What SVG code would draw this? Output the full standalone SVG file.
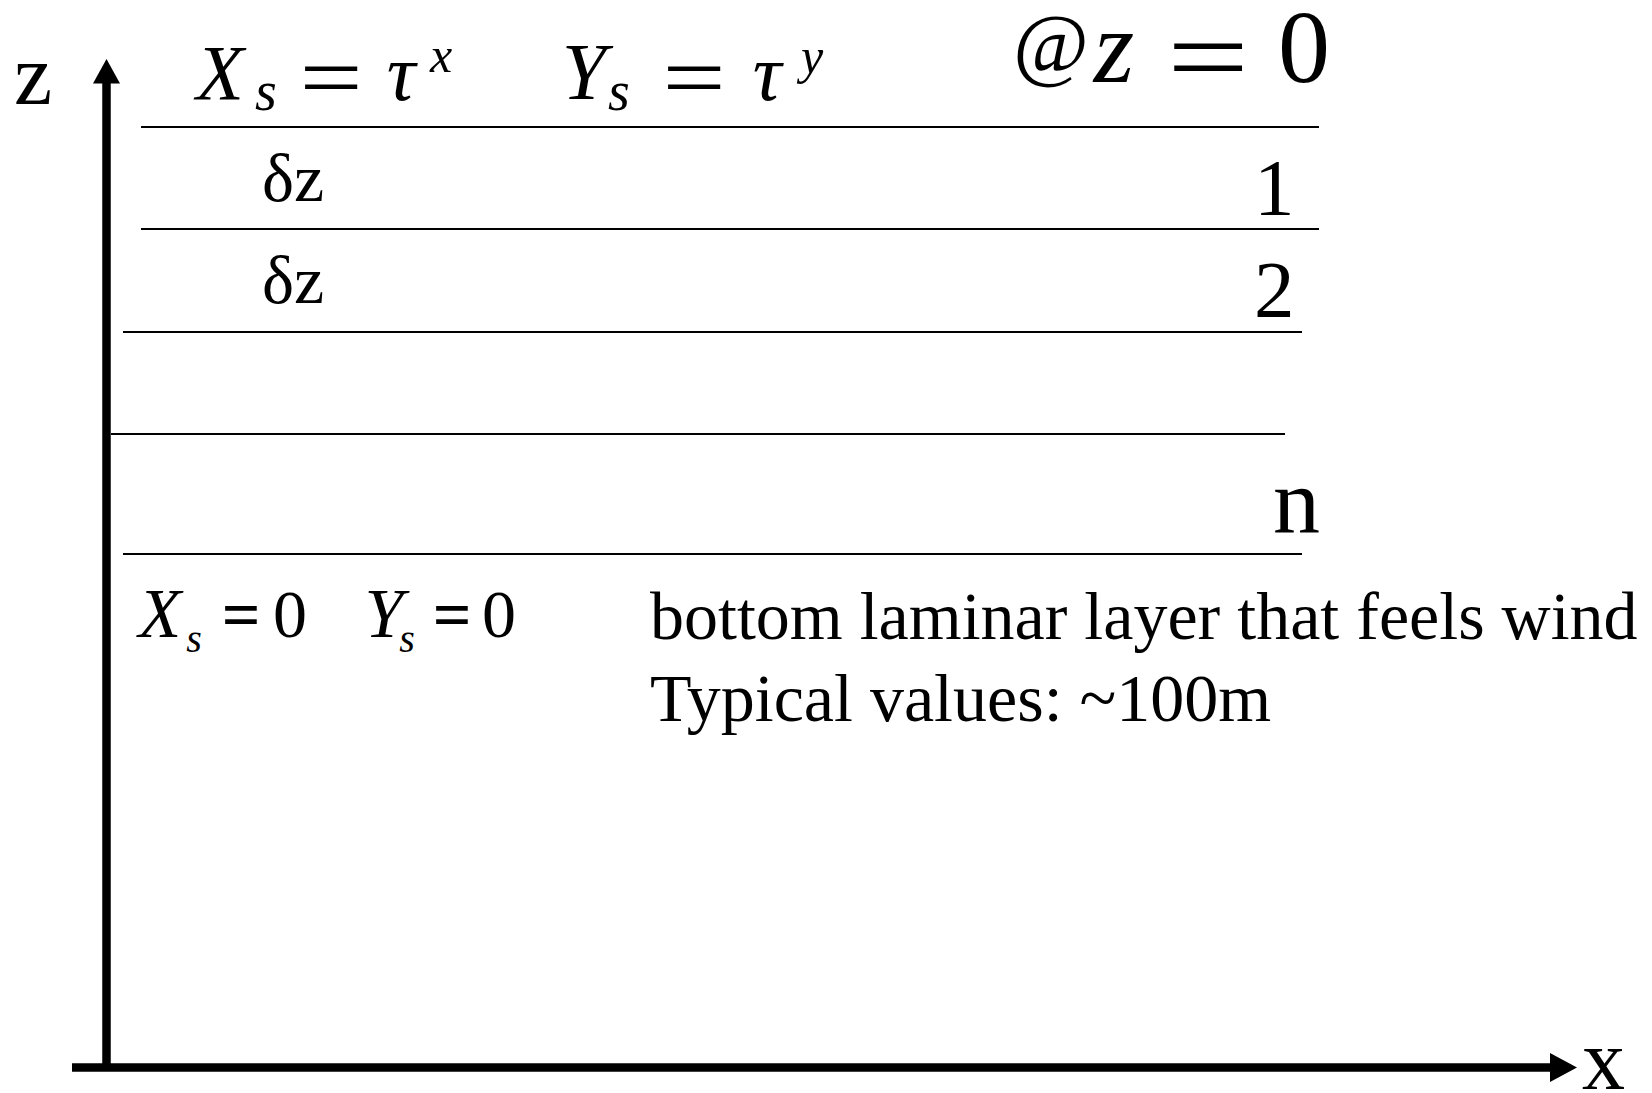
<svg xmlns="http://www.w3.org/2000/svg" width="1652" height="1093" viewBox="0 0 1652 1093">
<style>
text{font-family:"Liberation Serif","Times New Roman",serif;fill:#000}
.it{font-style:italic}
.c{text-anchor:middle}
.layer{stroke:#000;stroke-width:2.2;fill:none}
.axis{stroke:#000;stroke-width:8.5;fill:none}
</style>
<rect width="1652" height="1093" fill="#fff"/>
<g id="axes">
  <line class="axis" x1="106.5" y1="80" x2="106.5" y2="1071"/>
  <polygon points="106.5,59 93,83.5 120,83.5" fill="#000"/>
  <line class="axis" x1="72" y1="1067.5" x2="1553" y2="1067.5"/>
  <polygon points="1577,1067.5 1550,1053 1550,1082" fill="#000"/>
  <text x="14" y="104" font-size="86">z</text>
  <text x="1582" y="1089" font-size="86">x</text>
</g>
<g id="layers">
  <line class="layer" x1="141" y1="127" x2="1319" y2="127"/>
  <line class="layer" x1="141" y1="229" x2="1319" y2="229"/>
  <line class="layer" x1="123" y1="332" x2="1302" y2="332"/>
  <line class="layer" x1="111" y1="434" x2="1285" y2="434"/>
  <line class="layer" x1="123" y1="554" x2="1302" y2="554"/>
</g>
<g id="top-formula">
  <text class="it c" x="220" y="99" font-size="78">X</text>
  <text class="it c" x="266" y="110" font-size="56">s</text>
  <text class="c" transform="translate(331,107) scale(1.4,1.1)" font-size="80">=</text>
  <text class="it c" x="401" y="100" font-size="80">τ</text>
  <text class="it c" x="441" y="72" font-size="50">x</text>
  <text class="it c" x="584" y="99" font-size="80">Y</text>
  <text class="it c" x="619" y="110" font-size="56">s</text>
  <text class="c" transform="translate(694,107) scale(1.4,1.1)" font-size="80">=</text>
  <text class="it c" x="767" y="100" font-size="80">τ</text>
  <text class="it c" x="812" y="73" font-size="50">y</text>
  <text class="c" x="1051" y="71" font-size="82">@</text>
  <text class="it c" x="1114" y="82" font-size="104">z</text>
  <text class="c" transform="translate(1208,94) scale(1.4,1.05)" font-size="104">=</text>
  <text class="c" x="1304" y="82" font-size="104">0</text>
</g>
<g id="layer-labels">
  <text x="262" y="201" font-size="68">δz</text>
  <text x="262" y="303" font-size="68">δz</text>
  <text x="1254" y="215" font-size="81">1</text>
  <text x="1254" y="317" font-size="81">2</text>
  <text x="1273" y="533" font-size="94">n</text>
</g>
<g id="bottom-formula">
  <text class="it c" x="160" y="637" font-size="70">X</text>
  <text class="it c" x="194" y="652" font-size="40">s</text>
  <text class="c" x="241" y="637" font-size="68" font-weight="bold">=</text>
  <text class="c" x="290" y="637" font-size="68">0</text>
  <text class="it c" x="384" y="637" font-size="70">Y</text>
  <text class="it c" x="407" y="652" font-size="40">s</text>
  <text class="c" x="452" y="637" font-size="68" font-weight="bold">=</text>
  <text class="c" x="499" y="637" font-size="68">0</text>
</g>
<g id="description">
  <text x="650" y="639" font-size="68">bottom laminar layer that feels wind</text>
  <text x="650" y="721" font-size="68">Typical values: ~100m</text>
</g>
</svg>
